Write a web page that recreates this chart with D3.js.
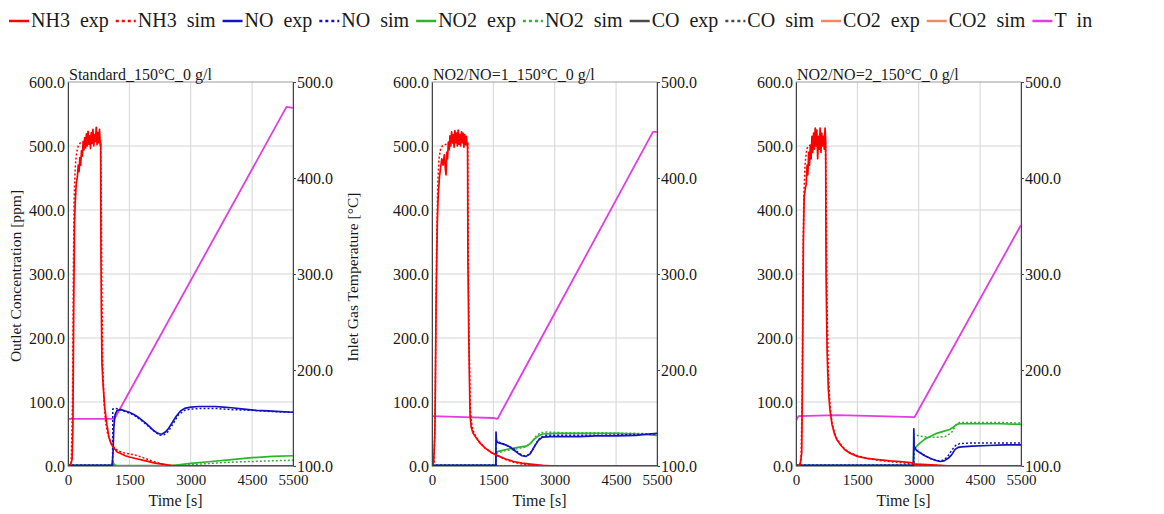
<!DOCTYPE html>
<html>
<head>
<meta charset="utf-8">
<script src="https://cdn.jsdelivr.net/npm/d3@7"></script>
<style>
  body { margin: 0; background: #fff; }
  svg text { font-family: "Liberation Serif", "Times New Roman", serif; fill: #1a1a1a; }
</style>
</head>
<body>
<svg id="chart" width="1164" height="514"></svg>
<script>
// ---- axis ticks and labels ----
const timeTicks = [0, 1500, 3000, 4500, 5500];
const concTicks = [0, 100, 200, 300, 400, 500, 600];
const tempTicks = [100, 200, 300, 400, 500];
const panelTitles = ["Standard_150°C_0 g/l", "NO2/NO=1_150°C_0 g/l", "NO2/NO=2_150°C_0 g/l"];
const legendNames = ["NH3", "NH3", "NO", "NO", "NO2", "NO2", "CO", "CO", "CO2", "CO2", "T"];
const legendSuffixes = ["exp", "sim", "exp", "sim", "exp", "sim", "exp", "sim", "exp", "sim", "in"];

// ---- measured traces: [time s, value] (ppm, or °C for inlet temperature) ----
// CO and CO2 stay at zero in all three runs
const coTrace = [[0, 0], [5500, 0]];
const co2Trace = [[0, 0], [5500, 0]];

// Standard run
const stdNh3Exp = [[0,0],[60,2],[100,10],[120,60],[140,250],[160,380],[175,410],[200,440],[230,452],[250,470],[270,460],[290,482],[310,470],[330,493],[350,484],[370,506],[390,494],[410,513],[430,497],[450,519],[470,500],[490,523],[510,503],[530,516],[550,496],[570,521],[590,504],[610,526],[630,500],[650,518],[670,507],[690,529],[710,502],[730,521],[750,505],[770,526],[790,500],[800,505],[805,340],[815,250],[830,160],[860,125],[900,90],[950,65],[1000,45],[1050,35],[1100,30],[1150,26],[1200,22],[1300,19],[1400,16],[1500,14],[1700,11],[1900,8],[2100,5],[2300,3],[2500,1],[2700,0],[5500,0]];
const stdNh3Sim = [[0,0],[80,5],[110,100],[130,300],[150,420],[180,470],[210,490],[250,500],[300,505],[400,508],[500,510],[600,511],[700,512],[795,512],[810,450],[830,260],[850,160],[880,100],[920,68],[970,50],[1050,36],[1150,27],[1250,23],[1400,20],[1500,19],[1650,17],[1800,14],[2000,9],[2200,5],[2400,2],[2600,0],[5500,0]];
const stdNoExp = [[0,1],[1080,1],[1100,20],[1120,60],[1150,80],[1200,87],[1300,88],[1400,86],[1500,84],[1600,81],[1700,77],[1800,72],[1900,67],[2000,61],[2100,55],[2200,51],[2250,50],[2300,50],[2380,53],[2450,58],[2550,68],[2650,78],[2750,86],[2850,90],[3000,92],[3200,93],[3400,93],[3600,93],[3800,92],[4000,91],[4300,89],[4600,87],[4900,86],[5200,85],[5500,84]];
const stdNoSim = [[0,1],[1090,1],[1095,89],[1150,90],[1250,89],[1400,85],[1600,80],[1800,71],[2000,60],[2150,52],[2250,48],[2350,49],[2450,54],[2550,64],[2700,80],[2850,87],[3000,89],[3300,90],[3600,90],[4000,88],[4500,87],[5000,85],[5500,84]];
const stdNo2Exp = [[0,1],[1050,1],[1100,6],[1130,2],[1200,0.5],[2500,0.5],[2700,2],[3000,4],[3500,7],[4000,10],[4500,13],[5000,15],[5500,16]];
const stdNo2Sim = [[0,1],[1100,1],[1200,0],[2500,0],[2800,1.5],[3200,3],[3700,5],[4200,6.5],[4700,7.5],[5200,8.5],[5500,9]];
const stdTin = [[0,149],[1130,149],[1160,151],[5300,471],[5340,474],[5500,473]];

// NO2/NO = 1 run
const r1Nh3Exp = [[0,0],[40,5],[70,50],[100,250],[130,380],[150,420],[180,450],[210,466],[240,480],[270,470],[300,486],[330,462],[345,455],[360,490],[380,480],[400,506],[420,494],[440,516],[460,500],[480,522],[500,505],[520,518],[540,498],[560,524],[580,505],[600,520],[620,500],[640,525],[660,503],[680,518],[700,500],[720,522],[740,505],[760,520],[780,498],[800,518],[820,502],[840,515],[860,500],[870,505],[878,320],[900,200],[930,80],[960,60],[1000,52],[1080,44],[1170,36],[1300,28],[1450,21],[1580,17],[1800,11],[1990,7],[2200,4.5],[2400,3],[2700,1],[3000,0],[5500,0]];
const r1Nh3Sim = [[0,0],[50,5],[80,100],[110,330],[140,440],[170,480],[210,495],[250,500],[300,502],[500,505],[700,506],[870,506],[885,350],[905,200],[930,100],[960,70],[1000,56],[1080,45],[1170,37],[1300,28],[1450,21],[1600,16],[1800,10],[2000,6],[2200,3],[2500,1],[2800,0],[5500,0]];
const r1NoExp = [[0,1],[1560,1],[1565,53],[1575,40],[1600,37],[1700,35],[1800,33],[1900,30],[2000,25],[2100,20],[2200,16],[2300,15],[2400,19],[2500,30],[2600,40],[2700,45],[2900,46],[3200,46],[3600,46],[4000,47],[4500,47],[5000,48],[5300,50],[5500,51]];
const r1NoSim = [[0,1],[1565,1],[1570,40],[1650,37],[1800,33],[2000,27],[2150,19],[2250,16],[2350,17],[2450,24],[2550,36],[2650,45],[2800,48],[3200,48],[4000,48],[4800,49],[5500,50]];
const r1No2Exp = [[0,1],[1560,1],[1565,22],[1700,24],[1900,27],[2100,29],[2300,31],[2400,35],[2500,42],[2600,47],[2700,50],[3000,51],[3500,51],[4000,51],[4500,51],[5000,50],[5500,48]];
const r1No2Sim = [[0,1],[1565,1],[1570,20],[1800,24],[2100,27],[2300,30],[2450,38],[2550,47],[2650,52],[2800,53],[3200,52],[4000,52],[5000,51],[5500,50]];
const r1Tin = [[0,152],[800,151],[1500,150],[1600,149],[5400,448],[5500,448]];

// NO2/NO = 2 run
const r2Nh3Exp = [[0,0],[100,2],[140,20],[160,150],[180,350],[200,420],[230,435],[250,440],[270,470],[290,455],[310,490],[330,470],[350,500],[370,480],[390,515],[410,490],[430,520],[450,495],[470,528],[490,500],[510,525],[530,480],[550,515],[570,495],[590,528],[610,490],[630,520],[650,500],[670,515],[690,495],[710,528],[725,510],[735,300],[760,180],[790,120],[830,88],[880,65],[940,50],[1000,41],[1100,32],[1200,25],[1320,20],[1500,15],[1730,12],[2000,10],[2300,8],[2540,7],[2860,5],[2900,3],[3200,2],[3500,1],[3800,0],[5500,0]];
const r2Nh3Sim = [[0,0],[120,5],[150,100],[170,300],[190,420],[220,470],[260,495],[300,500],[400,503],[600,505],[720,505],[740,400],[760,250],[790,150],[830,95],[880,68],[940,52],[1000,42],[1100,33],[1200,26],[1320,21],[1500,16],[1730,12],[2000,9],[2300,7],[2600,5],[2900,3],[3200,1.5],[3600,0.5],[4000,0],[5500,0]];
const r2NoExp = [[0,1],[2870,1],[2880,58],[2890,30],[2950,24],[3050,20],[3150,16],[3280,12],[3400,9],[3520,7],[3620,8],[3720,12],[3800,17],[3890,26],[3960,29],[4050,30],[4300,31],[4700,32],[5100,33],[5500,33]];
const r2NoSim = [[0,1],[2875,1],[2885,30],[2950,25],[3100,18],[3300,11],[3500,8],[3600,9],[3700,14],[3800,24],[3900,32],[4000,35],[4300,36],[4800,36],[5500,36]];
const r2No2Exp = [[0,1],[2870,1],[2880,25],[2950,31],[3050,37],[3150,42],[3280,46],[3440,51],[3600,54],[3760,57],[3850,61],[3930,65],[4000,66],[4500,66],[5000,66],[5500,65]];
const r2No2Sim = [[0,1],[2875,1],[2885,50],[2950,48],[3100,46],[3250,45],[3450,45],[3650,46],[3800,52],[3930,66],[4000,68],[4500,68],[5000,68],[5500,67]];
const r2Tin = [[0,147],[60,152],[1000,153],[2000,152],[2900,151],[5500,351]];

// ---- per-run grouping ----
const runs = [
  { nh3Exp: stdNh3Exp, nh3Sim: stdNh3Sim, noExp: stdNoExp, noSim: stdNoSim, no2Exp: stdNo2Exp, no2Sim: stdNo2Sim, tIn: stdTin },
  { nh3Exp: r1Nh3Exp, nh3Sim: r1Nh3Sim, noExp: r1NoExp, noSim: r1NoSim, no2Exp: r1No2Exp, no2Sim: r1No2Sim, tIn: r1Tin },
  { nh3Exp: r2Nh3Exp, nh3Sim: r2Nh3Sim, noExp: r2NoExp, noSim: r2NoSim, no2Exp: r2No2Exp, no2Sim: r2No2Sim, tIn: r2Tin }
];
runs.forEach(r => { r.coExp = coTrace; r.coSim = coTrace; r.co2Exp = co2Trace; r.co2Sim = co2Trace; });

// ---- series styling (legend order) ----
const COLORS = { nh3: "#ff0000", no: "#1414c0", no2: "#2cb42c", co: "#4a4a4a", co2: "#f08a62", t: "#e23ce2" };
const series = [
  { key: "nh3Exp", color: COLORS.nh3, dotted: false },
  { key: "nh3Sim", color: COLORS.nh3, dotted: true },
  { key: "noExp",  color: COLORS.no,  dotted: false },
  { key: "noSim",  color: COLORS.no,  dotted: true },
  { key: "no2Exp", color: COLORS.no2, dotted: false },
  { key: "no2Sim", color: COLORS.no2, dotted: true },
  { key: "coExp",  color: COLORS.co,  dotted: false },
  { key: "coSim",  color: COLORS.co,  dotted: true },
  { key: "co2Exp", color: COLORS.co2, dotted: false },
  { key: "co2Sim", color: COLORS.co2, dotted: false },
  { key: "tIn",    color: COLORS.t,   dotted: false, temp: true }
];
series.forEach((s, i) => { s.name = legendNames[i]; s.suffix = legendSuffixes[i]; });
// bottom-to-top drawing order
const drawOrder = ["co2Sim", "co2Exp", "coSim", "coExp", "tIn", "no2Exp", "no2Sim", "noExp", "noSim", "nh3Exp", "nh3Sim"];

// ---- layout ----
const svg = d3.select("#chart");
const plotW = 225, plotH = 384, plotTop = 82;
const panelLefts = [68, 432, 796];

const x = d3.scaleLinear().domain([0, 5500]).range([0, plotW]);
const yC = d3.scaleLinear().domain([0, 600]).range([plotH, 0]);
const yT = d3.scaleLinear().domain([100, 500]).range([plotH, 0]);
const fmt1 = d3.format(".1f");
const fmtTime = d3.format("d");

// ---- legend ----
const legend = svg.append("g").attr("transform", "translate(9,0)");
let lx = 0;
series.forEach(s => {
  const g = legend.append("g").attr("transform", `translate(${lx},0)`);
  g.append("line").attr("x1", 0).attr("x2", 20).attr("y1", 21).attr("y2", 21)
    .attr("stroke", s.color).attr("stroke-width", 2.5)
    .attr("stroke-dasharray", s.dotted ? "3,3" : null);
  const t = g.append("text").attr("x", 22).attr("y", 27).attr("font-size", 20)
    .text(s.name + "\u00a0\u00a0" + s.suffix);
  lx += 22 + t.node().getComputedTextLength() + 7;
});

// ---- panels ----
runs.forEach((run, i) => {
  const g = svg.append("g").attr("transform", `translate(${panelLefts[i]},${plotTop})`);

  g.append("clipPath").attr("id", "clip" + i)
    .append("rect").attr("width", plotW).attr("height", plotH);

  // grid
  g.append("g").selectAll("line").data(timeTicks.filter(t => t > 0 && t < 5500)).join("line")
    .attr("x1", d => x(d)).attr("x2", d => x(d)).attr("y1", 0).attr("y2", plotH)
    .attr("stroke", "#d4d4d4").attr("stroke-width", 1);
  g.append("g").selectAll("line").data(concTicks.filter(v => v > 0 && v < 600)).join("line")
    .attr("x1", 0).attr("x2", plotW).attr("y1", d => yC(d)).attr("y2", d => yC(d))
    .attr("stroke", "#d4d4d4").attr("stroke-width", 1);

  // frame
  g.append("rect").attr("width", plotW).attr("height", plotH)
    .attr("fill", "none").attr("stroke", "#9a9a9a").attr("stroke-width", 1);

  // traces
  const lines = g.append("g").attr("clip-path", `url(#clip${i})`);
  drawOrder.forEach(key => {
    const s = series.find(d => d.key === key);
    const yS = s.temp ? yT : yC;
    const line = d3.line().x(d => x(d[0])).y(d => yS(d[1]));
    lines.append("path").datum(run[key]).attr("d", line)
      .attr("fill", "none").attr("stroke", s.color)
      .attr("stroke-width", s.dotted ? 1.5 : (s.temp ? 1.8 : 1.7))
      .attr("stroke-dasharray", s.dotted ? "2,2" : null)
      .attr("stroke-linejoin", "round");
  });

  // axes
  const left = g.append("g").call(d3.axisLeft(yC).tickValues(concTicks).tickFormat(fmt1).tickSize(0).tickPadding(3));
  const right = g.append("g").attr("transform", `translate(${plotW},0)`)
    .call(d3.axisRight(yT).tickValues(tempTicks).tickFormat(fmt1).tickSize(3).tickPadding(1));
  const bottom = g.append("g").attr("transform", `translate(0,${plotH})`)
    .call(d3.axisBottom(x).tickValues(timeTicks).tickFormat(fmtTime).tickSize(0).tickPadding(8));
  [left, right].forEach(a => a.selectAll("text").attr("font-size", 16).attr("font-family", null));
  bottom.selectAll("text").attr("font-size", 15).attr("font-family", null);
  [left, right, bottom].forEach(a => {
    a.select(".domain").attr("stroke", "#444");
    a.selectAll(".tick line").attr("stroke", "#444");
  });
  bottom.select(".domain").attr("stroke", "#9a9a9a");

  // run title sitting on the top frame
  g.append("text").attr("x", 1).attr("y", -2).attr("font-size", 16).text(panelTitles[i]);

  // time axis title
  g.append("text").attr("x", plotW / 2 - 5).attr("y", plotH + 40).attr("text-anchor", "middle")
    .attr("font-size", 16).text("Time [s]");
});

// concentration and temperature axis titles (first panel only)
svg.append("text").attr("transform", "translate(21,276) rotate(-90)")
  .attr("text-anchor", "middle").attr("font-size", 15.5).text("Outlet Concentration [ppm]");
svg.append("text").attr("transform", "translate(358,277) rotate(-90)")
  .attr("text-anchor", "middle").attr("font-size", 15.5).text("Inlet Gas Temperature  [°C]");
</script>
</body>
</html>
